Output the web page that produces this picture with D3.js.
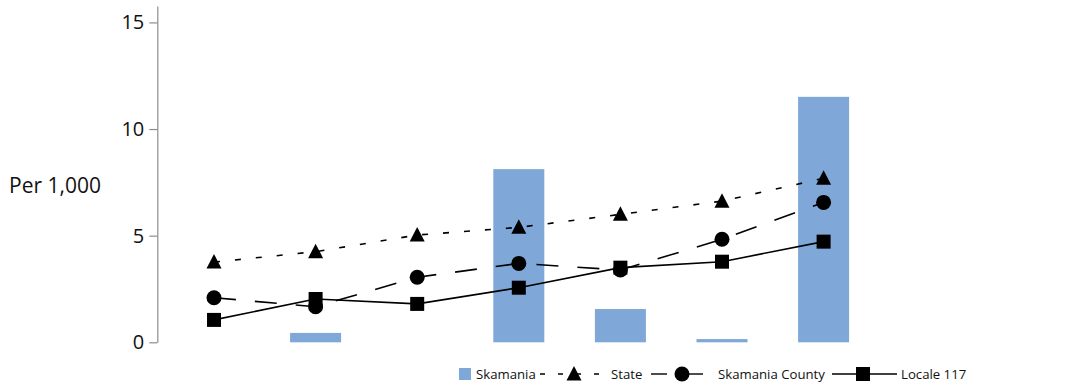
<!DOCTYPE html>
<html>
<head>
<meta charset="utf-8">
<script src="https://cdn.jsdelivr.net/npm/d3@7/dist/d3.min.js"></script>
<style>
  html, body { margin: 0; padding: 0; background: #fff; }
  svg { display: block; font-family: "Open Sans", "Noto Sans", sans-serif; }
</style>
</head>
<body>
<svg id="chart" width="1079" height="386"></svg>
<script>
const categories = ["1", "2", "3", "4", "5", "6", "7"];
const skamaniaBars = [0, 0.44, 0, 8.12, 1.56, 0.15, 11.51];
const stateValues = [3.76, 4.25, 5.03, 5.39, 6.0, 6.62, 7.69];
const countyValues = [2.09, 1.67, 3.05, 3.70, 3.39, 4.83, 6.56];
const localeValues = [1.05, 2.03, 1.80, 2.56, 3.50, 3.78, 4.72];
const yTicks = [0, 5, 10, 15];
const yTitle = "Per 1,000";
const legendLabels = ["Skamania", "State", "Skamania County", "Locale 117"];

const svg = d3.select("#chart");
const barColor = "#7FA7D8";

const x = d3.scaleBand().domain(categories).range([163.2, 874.4]).padding(0);
const y = d3.scaleLinear().domain([0, 15.77]).range([342.3, 6]);
const cx = c => x(c) + x.bandwidth() / 2;

// Y axis
const yAxis = d3.axisLeft(y).tickValues(yTicks).tickSize(8).tickSizeOuter(0).tickPadding(5);
const ga = svg.append("g").attr("transform", "translate(157.3,0)").call(yAxis);
ga.select(".domain").attr("stroke", "#8c8c8c").attr("stroke-width", 1.2);
ga.selectAll(".tick line").attr("stroke", "#8c8c8c").attr("stroke-width", 1.2);
ga.selectAll(".tick text").attr("fill", "#111").style("font-size", "20px")
  .style("font-family", "'Open Sans', sans-serif");

svg.append("text").attr("x", 9).attr("y", 193)
  .attr("fill", "#111").style("font-size", "21px").text(yTitle);

// Bars
const bw = 51;
svg.append("g").selectAll("rect").data(categories.map((c, i) => ({c, v: skamaniaBars[i]})))
  .join("rect")
  .filter(d => d.v > 0)
  .attr("x", d => cx(d.c) - bw / 2)
  .attr("y", d => y(d.v))
  .attr("width", bw)
  .attr("height", d => y(0) - y(d.v))
  .attr("fill", barColor);

const series = [
  {vals: stateValues, dash: "6,15", marker: "triangle"},
  {vals: countyValues, dash: "22,19", marker: "circle"},
  {vals: localeValues, dash: null, marker: "square"}
];

const line = d3.line().x(d => cx(d.c)).y(d => y(d.v));

function drawMarker(g, type, px, py) {
  if (type === "triangle") {
    g.append("path").attr("d", `M${px},${py - 8} L${px + 7.5},${py + 6.5} L${px - 7.5},${py + 6.5} Z`).attr("fill", "#000");
  } else if (type === "circle") {
    g.append("circle").attr("cx", px).attr("cy", py).attr("r", 7.5).attr("fill", "#000");
  } else {
    g.append("rect").attr("x", px - 7).attr("y", py - 7).attr("width", 14).attr("height", 14).attr("fill", "#000");
  }
}

series.forEach(s => {
  const data = categories.map((c, i) => ({c, v: s.vals[i]}));
  const p = svg.append("path").datum(data).attr("d", line)
    .attr("fill", "none").attr("stroke", "#000").attr("stroke-width", 1.6);
  if (s.dash) p.attr("stroke-dasharray", s.dash);
});
series.forEach(s => {
  const g = svg.append("g");
  categories.forEach((c, i) => drawMarker(g, s.marker, cx(c), y(s.vals[i])));
});

// Legend
const lg = svg.append("g").style("font-size", "13.2px").attr("fill", "#111");
const ly = 374;
lg.append("rect").attr("x", 459).attr("y", ly - 6).attr("width", 12).attr("height", 12).attr("fill", barColor);
lg.append("text").attr("x", 476).attr("y", ly + 5).text(legendLabels[0]);

lg.append("line").attr("x1", 540).attr("x2", 603).attr("y1", ly).attr("y2", ly)
  .attr("stroke", "#000").attr("stroke-width", 1.4).attr("stroke-dasharray", "5,13");
drawMarker(lg, "triangle", 574, ly);
lg.append("text").attr("x", 611).attr("y", ly + 5).text(legendLabels[1]);

lg.append("line").attr("x1", 651).attr("x2", 667).attr("y1", ly).attr("y2", ly)
  .attr("stroke", "#000").attr("stroke-width", 1.4);
lg.append("line").attr("x1", 682).attr("x2", 703).attr("y1", ly).attr("y2", ly)
  .attr("stroke", "#000").attr("stroke-width", 1.4);
drawMarker(lg, "circle", 682, ly);
lg.append("text").attr("x", 718).attr("y", ly + 5).text(legendLabels[2]);

lg.append("line").attr("x1", 832).attr("x2", 897).attr("y1", ly).attr("y2", ly)
  .attr("stroke", "#000").attr("stroke-width", 1.4);
drawMarker(lg, "square", 863, ly);
lg.append("text").attr("x", 901).attr("y", ly + 5).text(legendLabels[3]);
</script>
</body>
</html>
